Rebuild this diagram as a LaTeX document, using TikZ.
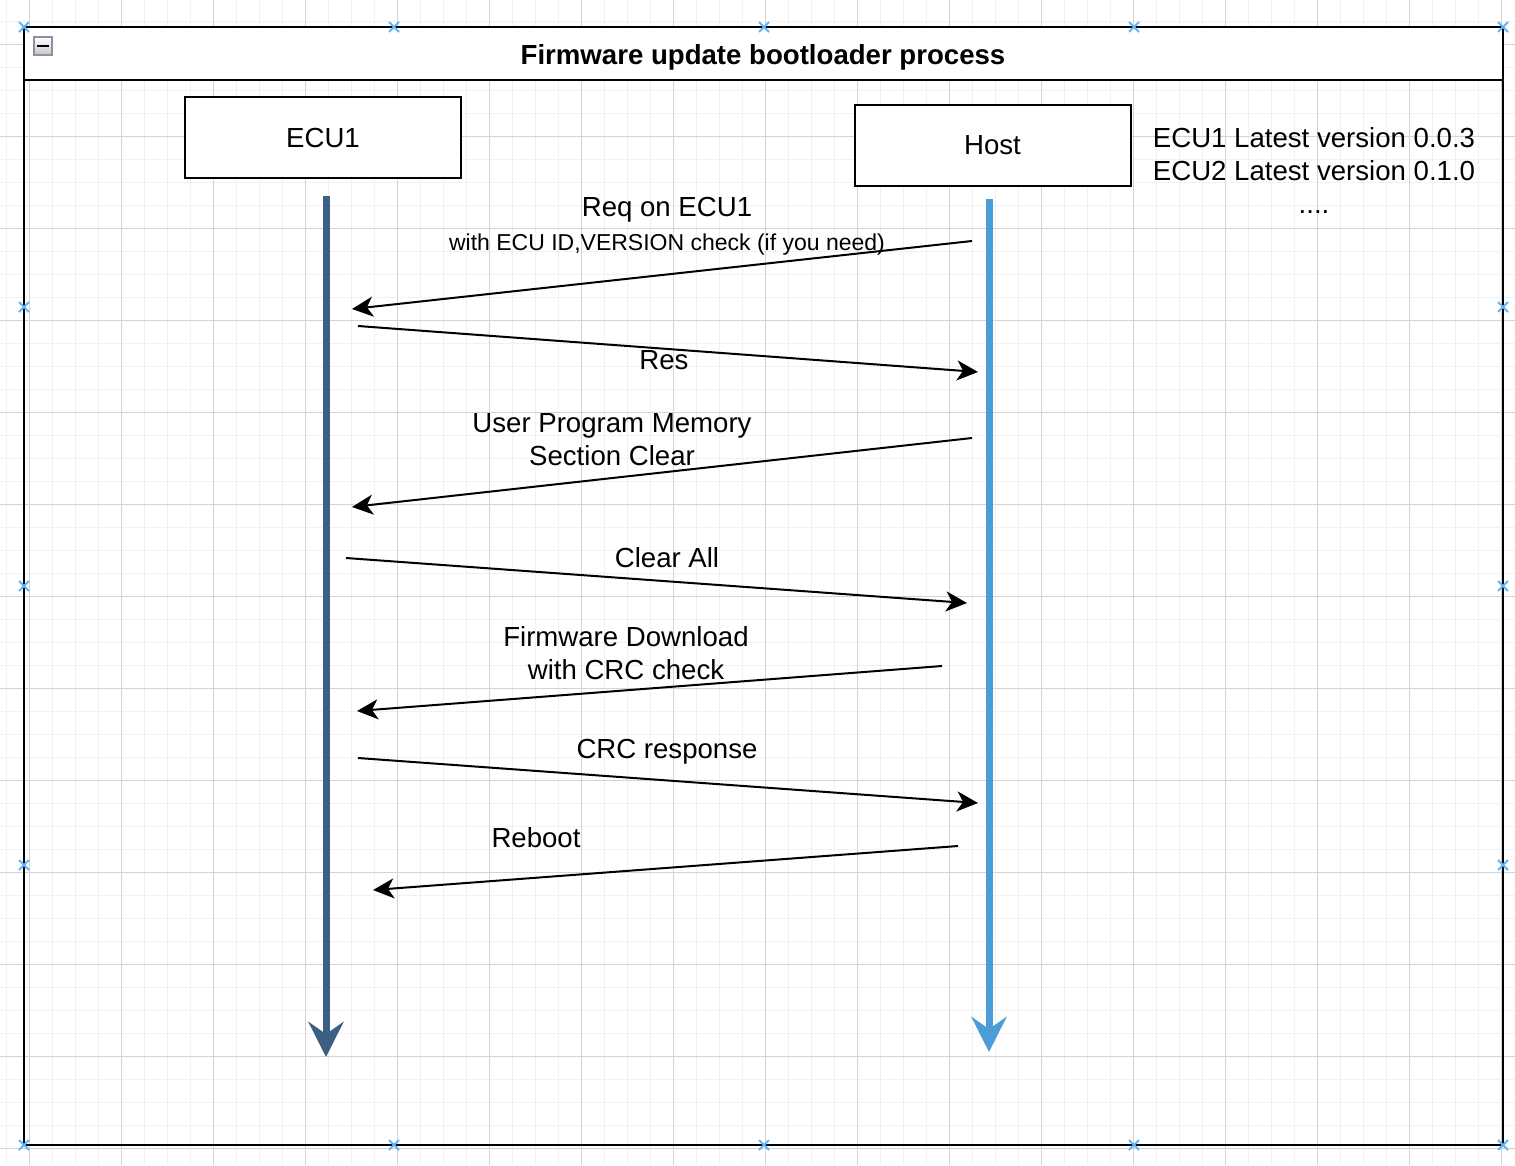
\documentclass[tikz,border=0pt]{standalone}
\usepackage{fontspec}
\setmainfont{Liberation Sans}
\usetikzlibrary{arrows.meta}
\definecolor{minorgrid}{HTML}{F1F1F1}
\definecolor{majorgrid}{HTML}{D4D4D4}
\definecolor{ecublue}{HTML}{3C5F85}
\definecolor{hostblue}{HTML}{4A9DD6}
\definecolor{markblue}{HTML}{62B4F4}
\definecolor{iconedge}{HTML}{8C92A4}
\tikzset{
  minorline/.style={draw=minorgrid, line width=1},
  majorline/.style={draw=majorgrid, line width=1},
  lifebox/.style={draw=black, line width=2, fill=white, minimum width=276, minimum height=81, inner sep=0, font=\fontsize{27.6}{32}\selectfont},
  msg/.style={draw=black, line width=2, -{Stealth[length=21, width=20, inset=6]}},
  eculine/.style={draw=ecublue, line width=7, -{Stealth[length=35, width=35, inset=12]}},
  hostline/.style={draw=hostblue, line width=7, -{Stealth[length=35, width=35, inset=12]}},
  lbl/.style={font=\fontsize{27.6}{33}\selectfont, align=center, inner sep=0},
  smalllbl/.style={font=\fontsize{23}{26}\selectfont, align=center, inner sep=0},
  markerx/.style={draw=markblue, line width=2},
}
\begin{document}
\begin{tikzpicture}[x=1pt, y=-1pt]
\useasboundingbox (0,0) rectangle (1515,1165);
\fill[white] (0,0) rectangle (1515,1165);
% grid
\foreach \x in {6,29,...,1515} \draw[minorline] (\x,0) -- (\x,1165);
\foreach \y in {21,44,...,1165} \draw[minorline] (0,\y) -- (1515,\y);
\foreach \x in {29,121,...,1515} \draw[majorline] (\x,0) -- (\x,1165);
\foreach \y in {44,136,...,1165} \draw[majorline] (0,\y) -- (1515,\y);
% frame
\fill[white] (24,27) rectangle (1503,80);
\draw[line width=2] (24,27) rectangle (1503,1145);
\draw[line width=2] (24,80) -- (1503,80);
% collapse icon
\shade[top color=white, bottom color=gray!45, draw=iconedge, line width=1.5] (34,37) rectangle (52,55);
\draw[line width=2.5] (37,46) -- (49,46);
\node[font=\bfseries\fontsize{27.6}{32}\selectfont, inner sep=0] (title) at (763,57) {Firmware update bootloader process};
% corner markers
\foreach \p in {(24,27),(394,27),(764,27),(1134,27),(1503,27),(24,307),(24,586),(24,865),(1503,307),(1503,586),(1503,865),(24,1145),(394,1145),(764,1145),(1134,1145),(1503,1145)}
  \draw[markerx] \p ++(-5,-5) -- ++(10,10) \p ++(-5,5) -- ++(10,-10);
% lifeline boxes
\node[lifebox] (ecu1) at (323,137.5) {ECU1};
\node[lifebox] (host) at (992.5,145.5) {Host};
% lifelines
\coordinate (ecu1top) at (326,196);
\coordinate (ecu1end) at (326,1057);
\coordinate (hosttop) at (989,199);
\coordinate (hostend) at (989,1052);
\draw[eculine] (ecu1top) -- (ecu1end);
\draw[hostline] (hosttop) -- (hostend);
% message end points
\coordinate (m1s) at (972,241); \coordinate (m1e) at (352,309);
\coordinate (m2s) at (358,326); \coordinate (m2e) at (978,372);
\coordinate (m3s) at (972,438); \coordinate (m3e) at (352,507);
\coordinate (m4s) at (346,558); \coordinate (m4e) at (967,603);
\coordinate (m5s) at (942,666); \coordinate (m5e) at (357,711);
\coordinate (m6s) at (358,758); \coordinate (m6e) at (978,803);
\coordinate (m7s) at (958,846); \coordinate (m7e) at (373,890);
\draw[msg] (m1s) -- (m1e);
\draw[msg] (m2s) -- (m2e);
\draw[msg] (m3s) -- (m3e);
\draw[msg] (m4s) -- (m4e);
\draw[msg] (m5s) -- (m5e);
\draw[msg] (m6s) -- (m6e);
\draw[msg] (m7s) -- (m7e);
% labels
\node[lbl] (l1) at (667,210) {Req on ECU1};
\node[smalllbl] (l1b) at (667,245) {with ECU ID,VERSION check (if you need)};
\node[lbl] (l2) at (664,360) {Res};
\node[lbl] (l3) at (612,439.5) {User Program Memory\\Section Clear};
\node[lbl] (l4) at (667,558) {Clear All};
\node[lbl] (l5) at (626,653.5) {Firmware Download\\with CRC check};
\node[lbl] (l6) at (667,752) {CRC response};
\node[lbl] (l7) at (536,838) {Reboot};
\node[lbl] (info) at (1314,170) {ECU1 Latest version 0.0.3\\ECU2 Latest version 0.1.0\\....};
\end{tikzpicture}
\end{document}
